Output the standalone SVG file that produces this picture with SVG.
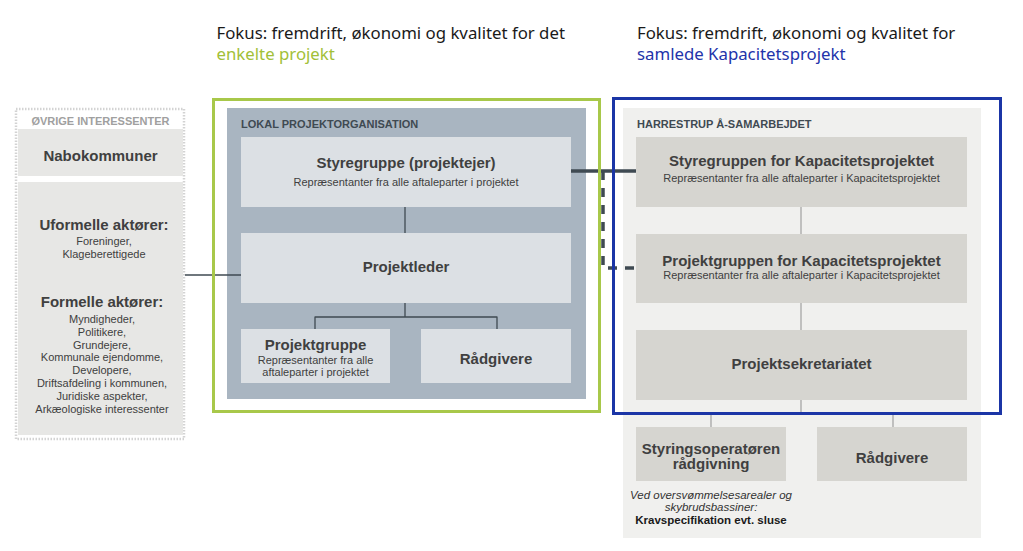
<svg xmlns="http://www.w3.org/2000/svg" width="1023" height="551" viewBox="0 0 1023 551">
<style>
  text { font-family: "Liberation Sans", Arial, sans-serif; fill: #404040; }
  .head { font-family: "Noto Sans", "Liberation Sans", sans-serif; font-size: 16.8px; fill: #1a1a1a; }
  .t { font-size: 15px; font-weight: bold; text-anchor: middle; }
  .s { font-size: 11px; text-anchor: middle; }
  .cap { font-size: 11px; font-weight: bold; }
  .lbox { fill: #e7e7e5; }
  .mbox { fill: #dce0e4; }
  .rbox { fill: #d6d5d0; }
  .conn { fill: none; stroke: #3f4a52; stroke-width: 1.3; }
  .connr { fill: none; stroke: #a6a6a6; stroke-width: 1.3; }
  .link { fill: none; stroke: #3f4a52; stroke-width: 3.5; }
</style>

<!-- headings -->
<g id="heading-left">
  <text class="head" x="216.5" y="39">Fokus: fremdrift, økonomi og kvalitet for det</text>
  <text class="head" x="216.5" y="60" style="fill:#a2c037">enkelte projekt</text>
</g>
<g id="heading-right">
  <text class="head" x="637" y="39">Fokus: fremdrift, økonomi og kvalitet for</text>
  <text class="head" x="637" y="60" style="fill:#2233aa">samlede Kapacitetsprojekt</text>
</g>

<!-- panel backgrounds -->
<g id="panel-oevrige">
  <rect x="16" y="109" width="168" height="330" fill="#ffffff" stroke="#d3d3d3" stroke-width="2.5" stroke-dasharray="1.5 1.5"/>
  <text class="cap" x="100.5" y="125" text-anchor="middle" style="fill:#a0a0a0">ØVRIGE INTERESSENTER</text>
</g>
<g id="panel-lokal">
  <rect x="227" y="108" width="359" height="291" fill="#a9b5c1"/>
  <text class="cap" x="241" y="128" style="fill:#3f4a52">LOKAL PROJEKTORGANISATION</text>
</g>
<g id="panel-harrestrup">
  <rect x="623" y="108" width="358" height="430" fill="#f0f0ee"/>
  <text class="cap" x="637" y="128" style="fill:#3f4a52">HARRESTRUP Å-SAMARBEJDET</text>
</g>

<!-- connectors -->
<g id="connectors">
  <path class="conn" d="M185,275 H241"/>
  <path class="conn" d="M405,207 V233"/>
  <path class="conn" d="M405,303 V317 M315,317 H497 M315,316.4 V329 M497,316.4 V329"/>
  <path class="connr" d="M801,207 V234"/>
  <path class="connr" d="M801,303 V330"/>
  <path class="connr" d="M801,400 V413 M711,413 H893 M711,413 V427 M893,413 V427"/>
  <path class="link" d="M571,171 H636"/>
  <path class="link" d="M603,171 V268 H636" stroke-dasharray="9 8"/>
</g>

<!-- left nodes -->
<g id="node-nabokommuner">
  <rect class="lbox" x="18" y="129" width="165" height="47"/>
  <text class="t" x="100.5" y="161">Nabokommuner</text>
</g>
<g id="node-aktoerer">
  <rect class="lbox" x="18" y="182" width="165" height="253"/>
  <text class="t" x="104" y="230">Uformelle aktører:</text>
  <text class="s" x="104" y="245">Foreninger,</text>
  <text class="s" x="104" y="257.5">Klageberettigede</text>
  <text class="t" x="102" y="307">Formelle aktører:</text>
  <text class="s" x="102" y="323">Myndigheder,</text>
  <text class="s" x="102" y="335.8">Politikere,</text>
  <text class="s" x="102" y="348.6">Grundejere,</text>
  <text class="s" x="102" y="361.4">Kommunale ejendomme,</text>
  <text class="s" x="102" y="374.2">Developere,</text>
  <text class="s" x="102" y="387">Driftsafdeling i kommunen,</text>
  <text class="s" x="102" y="399.8">Juridiske aspekter,</text>
  <text class="s" x="102" y="412.6">Arkæologiske interessenter</text>
</g>

<!-- middle nodes -->
<g id="node-styregruppe">
  <rect class="mbox" x="241" y="137" width="330" height="70"/>
  <text class="t" x="406" y="168">Styregruppe (projektejer)</text>
  <text class="s" x="406" y="186">Repræsentanter fra alle aftaleparter i projektet</text>
</g>
<g id="node-projektleder">
  <rect class="mbox" x="241" y="233" width="330" height="70"/>
  <text class="t" x="406" y="272">Projektleder</text>
</g>
<g id="node-projektgruppe">
  <rect class="mbox" x="241" y="329" width="149" height="54"/>
  <text class="t" x="315.5" y="350">Projektgruppe</text>
  <text class="s" x="315.5" y="364">Repræsentanter fra alle</text>
  <text class="s" x="315.5" y="376">aftaleparter i projektet</text>
</g>
<g id="node-raadgivere-lokal">
  <rect class="mbox" x="421" y="329" width="150" height="54"/>
  <text class="t" x="496" y="364">Rådgivere</text>
</g>

<!-- right nodes -->
<g id="node-styregruppen-kap">
  <rect class="rbox" x="636" y="137" width="331" height="70"/>
  <text class="t" x="801.5" y="166">Styregruppen for Kapacitetsprojektet</text>
  <text class="s" x="801.5" y="182">Repræsentanter fra alle aftaleparter i Kapacitetsprojektet</text>
</g>
<g id="node-projektgruppen-kap">
  <rect class="rbox" x="636" y="234" width="331" height="69"/>
  <text class="t" x="801.5" y="266">Projektgruppen for Kapacitetsprojektet</text>
  <text class="s" x="801.5" y="279">Repræsentanter fra alle aftaleparter i Kapacitetsprojektet</text>
</g>
<g id="node-projektsekretariatet">
  <rect class="rbox" x="636" y="330" width="331" height="70"/>
  <text class="t" x="801.5" y="369">Projektsekretariatet</text>
</g>
<g id="node-styringsoperatoeren">
  <rect class="rbox" x="636" y="427" width="150" height="54"/>
  <text class="t" x="711" y="454">Styringsoperatøren</text>
  <text class="t" x="711" y="469">rådgivning</text>
  <text class="s" x="711" y="499" style="font-style:italic;font-size:11.5px;fill:#333">Ved oversvømmelsesarealer og</text>
  <text class="s" x="711" y="511" style="font-style:italic;font-size:11.5px;fill:#333">skybrudsbassiner:</text>
  <text class="s" x="711" y="524" style="font-weight:bold;font-size:11.5px;fill:#1a1a1a">Kravspecifikation evt. sluse</text>
</g>
<g id="node-raadgivere-kap">
  <rect class="rbox" x="817" y="427" width="150" height="54"/>
  <text class="t" x="892" y="463">Rådgivere</text>
</g>

<!-- frames -->
<g id="frame-green">
  <rect x="213.5" y="99.5" width="386" height="312" fill="none" stroke="#a8c84a" stroke-width="3"/>
</g>
<g id="frame-blue">
  <rect x="613.5" y="98.5" width="387" height="315" fill="none" stroke="#1b35a6" stroke-width="3"/>
</g>
</svg>
